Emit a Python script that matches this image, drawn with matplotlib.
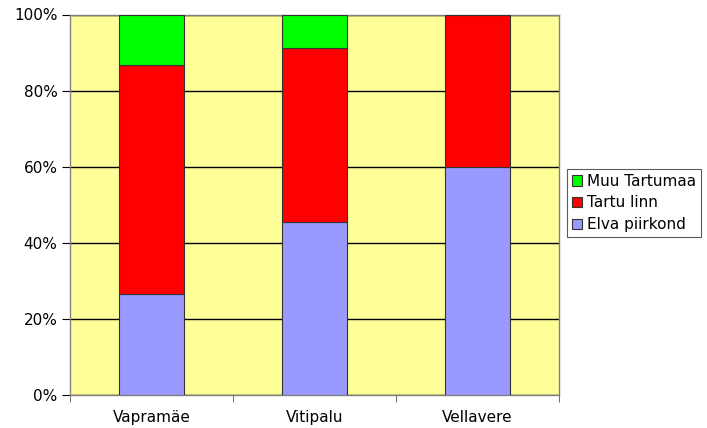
import matplotlib.pyplot as plt
from matplotlib.ticker import FuncFormatter

# Data (shares in %)
villages = ["Vapramäe", "Vitipalu", "Vellavere"]
elva = [26.5, 45.4, 59.8]
tartu = [60.1, 45.7, 40.2]
muu = [13.4, 8.9, 0.0]

series = [("Elva piirkond", elva, "#9999FF"),
          ("Tartu linn", tartu, "#FF0000"),
          ("Muu Tartumaa", muu, "#00FF00")]

plt.rcParams['font.family'] = ['Verdana', 'DejaVu Sans']
fig = plt.figure(figsize=(7.07, 4.28), dpi=100)
ax = fig.add_axes([70 / 707, 33 / 428, 489 / 707, 380.5 / 428])
ax.set_facecolor("#FFFF99")

x = list(range(len(villages)))
bottom = [0.0] * len(villages)
handles = []
for name, vals, color in series:
    bars = ax.bar(x, vals, 0.4, bottom=bottom, color=color,
                  edgecolor="#333333", linewidth=0.8, label=name, zorder=3)
    handles.append(bars)
    bottom = [b + v for b, v in zip(bottom, vals)]

ax.set_xlim(-0.5, 2.5)
ax.set_ylim(0, 100)
ax.set_yticks(range(0, 101, 20))
ax.yaxis.set_major_formatter(FuncFormatter(lambda v, p: f"{int(v)}%"))
ax.yaxis.grid(True, color="black", linewidth=1.0, zorder=1)
ax.set_axisbelow(True)

ax.set_xticks(x)
ax.set_xticklabels(villages)
ax.set_xticks([-0.5, 0.5, 1.5, 2.5], minor=True)
ax.tick_params(axis="x", which="major", length=0, pad=11, labelsize=11)
ax.tick_params(axis="x", which="minor", length=5, color="#555555", direction="out")
ax.tick_params(axis="y", length=6, color="black", labelsize=11, pad=3)

for s in ax.spines.values():
    s.set_color("#808080")
    s.set_linewidth(1.0)

leg = ax.legend(handles[::-1], [s[0] for s in series][::-1],
                loc="upper left", bbox_to_anchor=(567 / 707, 259 / 428),
                bbox_transform=fig.transFigure, frameon=True, fancybox=False,
                fontsize=11, handlelength=0.7, handleheight=0.7,
                handletextpad=0.3, borderpad=0.3, labelspacing=0.45,
                borderaxespad=0)
leg.get_frame().set_edgecolor("#333333")
leg.get_frame().set_linewidth(0.8)

fig.savefig("out.png", dpi=100)
